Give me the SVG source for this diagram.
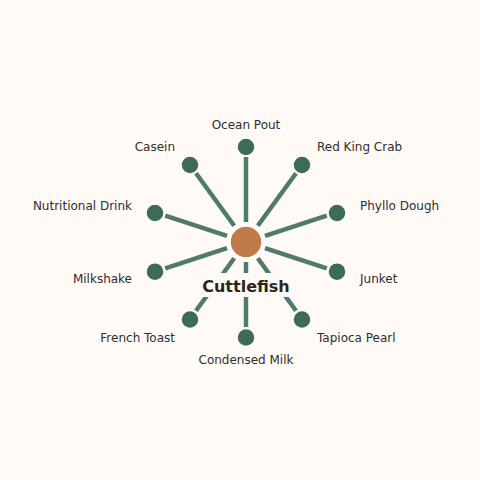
<svg xmlns="http://www.w3.org/2000/svg" width="480" height="480" viewBox="0 0 480 480">
<style>
.bg{fill:#FFFAF6}
.spoke{stroke:#4E7B6B;stroke-width:4.5;stroke-linecap:butt}
.leaf{fill:#3D6B5A;stroke:#FFFAF6;stroke-width:1.5}
.hub{fill:#C17A4A;stroke:#FFFFFF;stroke-width:2.5}
.lbl{font-family:"DejaVu Sans",sans-serif;font-size:12px;fill:#2E2E2E}
.title{font-family:"DejaVu Sans",sans-serif;font-size:16px;font-weight:bold;fill:#2A2622}
</style>
<rect class="bg" x="0" y="0" width="480" height="480"/>
<g id="connectors">
<line class="spoke" x1="246" y1="222" x2="246" y2="157"/>
<line class="spoke" x1="257.8" y1="225.8" x2="296.0" y2="173.2"/>
<line class="spoke" x1="265.0" y1="235.8" x2="326.8" y2="215.7"/>
<line class="spoke" x1="265.0" y1="248.2" x2="326.8" y2="268.3"/>
<line class="spoke" x1="257.8" y1="258.2" x2="296.0" y2="310.8"/>
<line class="spoke" x1="246" y1="262" x2="246" y2="327"/>
<line class="spoke" x1="234.2" y1="258.2" x2="196.0" y2="310.8"/>
<line class="spoke" x1="227.0" y1="248.2" x2="165.2" y2="268.3"/>
<line class="spoke" x1="227.0" y1="235.8" x2="165.2" y2="215.7"/>
<line class="spoke" x1="234.2" y1="225.8" x2="196.0" y2="173.2"/>
</g>
<g id="hub">
<circle class="hub" cx="246" cy="242" r="16.5"/>
<rect class="bg" x="196" y="273" width="100" height="24"/>
<text class="title" x="246" y="291.5" text-anchor="middle">Cuttlefish</text>
</g>
<g id="n-ocean-pout"><circle class="leaf" cx="246" cy="147" r="9"/><text class="lbl" x="246" y="129" text-anchor="middle">Ocean Pout</text></g>
<g id="n-red-king-crab"><circle class="leaf" cx="302" cy="165" r="9"/><text class="lbl" x="317" y="151">Red King Crab</text></g>
<g id="n-phyllo-dough"><circle class="leaf" cx="337" cy="213" r="9"/><text class="lbl" x="360" y="210">Phyllo Dough</text></g>
<g id="n-junket"><circle class="leaf" cx="337" cy="271.7" r="9"/><text class="lbl" x="360" y="283">Junket</text></g>
<g id="n-tapioca-pearl"><circle class="leaf" cx="302" cy="319.5" r="9"/><text class="lbl" x="317" y="342">Tapioca Pearl</text></g>
<g id="n-condensed-milk"><circle class="leaf" cx="246" cy="337.5" r="9"/><text class="lbl" x="246" y="364" text-anchor="middle">Condensed Milk</text></g>
<g id="n-french-toast"><circle class="leaf" cx="190" cy="319.5" r="9"/><text class="lbl" x="175" y="342" text-anchor="end">French Toast</text></g>
<g id="n-milkshake"><circle class="leaf" cx="155" cy="271.7" r="9"/><text class="lbl" x="132" y="283" text-anchor="end">Milkshake</text></g>
<g id="n-nutritional-drink"><circle class="leaf" cx="155" cy="213" r="9"/><text class="lbl" x="132" y="210" text-anchor="end">Nutritional Drink</text></g>
<g id="n-casein"><circle class="leaf" cx="190" cy="165" r="9"/><text class="lbl" x="175" y="151" text-anchor="end">Casein</text></g>
</svg>
